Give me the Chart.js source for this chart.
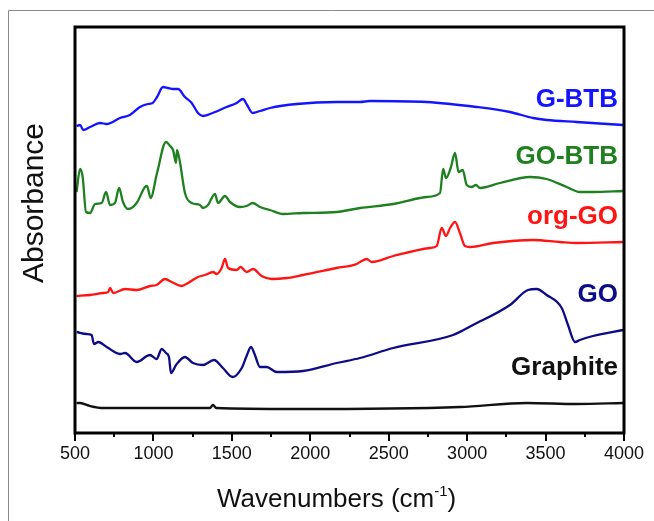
<!DOCTYPE html>
<html>
<head>
<meta charset="utf-8">
<script src="https://cdn.jsdelivr.net/npm/chart.js@4.4.1/dist/chart.umd.min.js"></script>
<style>
  body { margin: 0; background: #fff; }
  #wrap { width: 654px; height: 521px; }
</style>
</head>
<body>
<div id="wrap"><canvas id="ftir" width="654" height="521"></canvas></div>
<script>
// FTIR spectra, stacked with an offset (absorbance in arbitrary units)
var xTicks = [500, 1000, 1500, 2000, 2500, 3000, 3500, 4000];

var gbtbWn  = [510,532,553,596,660,702,787,850,914,965,995,1023,1061,1093,1125,1157,1201,1244,1284,1316,1361,1467,1531,1571,1597,1633,1679,1743,1913,2168,2317,2380,2742,3061,3273,3420,3507,3698,3995];
var gbtbAbs = [3.07,3.08,3.03,3.06,3.10,3.09,3.15,3.18,3.26,3.29,3.30,3.36,3.46,3.45,3.44,3.44,3.36,3.30,3.20,3.17,3.19,3.26,3.30,3.34,3.28,3.20,3.22,3.25,3.29,3.31,3.31,3.32,3.31,3.26,3.21,3.15,3.13,3.11,3.08];

var gobtbWn  = [510,532,549,570,596,628,670,698,723,755,781,806,838,893,946,959,982,1023,1080,1106,1125,1144,1150,1170,1201,1244,1297,1316,1348,1392,1412,1456,1488,1552,1594,1633,1679,1743,1826,1954,2168,2317,2529,2699,2742,2827,2847,2865,2895,2923,2945,2972,2997,3029,3056,3082,3209,3400,3507,3634,3719,3802,3995];
var gobtbAbs = [2.41,2.64,2.56,2.21,2.20,2.29,2.30,2.41,2.28,2.30,2.45,2.31,2.24,2.30,2.46,2.47,2.35,2.60,2.91,2.87,2.83,2.70,2.83,2.70,2.40,2.30,2.28,2.25,2.28,2.39,2.30,2.37,2.31,2.26,2.27,2.30,2.26,2.23,2.19,2.20,2.21,2.25,2.29,2.35,2.36,2.40,2.64,2.55,2.65,2.80,2.61,2.63,2.48,2.46,2.48,2.45,2.50,2.56,2.54,2.46,2.41,2.41,2.42];

var orggoWn  = [510,596,681,712,723,744,819,893,978,1020,1074,1116,1180,1221,1284,1329,1380,1403,1435,1456,1476,1531,1556,1594,1635,1690,1754,1849,1954,2168,2296,2317,2360,2391,2529,2763,2806,2838,2865,2891,2923,2954,2986,3018,3165,3420,3592,3698,3995];
var orggoAbs = [1.37,1.38,1.40,1.41,1.45,1.40,1.44,1.43,1.47,1.48,1.54,1.51,1.47,1.50,1.56,1.58,1.61,1.59,1.65,1.74,1.65,1.63,1.66,1.61,1.64,1.57,1.54,1.55,1.58,1.65,1.69,1.71,1.74,1.71,1.77,1.85,1.87,2.05,1.97,2.05,2.11,2.00,1.87,1.86,1.90,1.93,1.91,1.90,1.91];

var goWn  = [510,574,606,621,649,702,787,819,893,978,1020,1053,1080,1099,1112,1144,1201,1252,1316,1386,1443,1505,1563,1594,1622,1647,1679,1722,1786,1954,2168,2317,2529,2910,3037,3273,3388,3443,3507,3603,3643,3688,3719,3802,3995];
var goAbs = [1.01,0.99,0.98,0.89,0.91,0.86,0.79,0.80,0.71,0.78,0.74,0.84,0.80,0.76,0.60,0.68,0.76,0.70,0.68,0.73,0.65,0.56,0.65,0.77,0.86,0.78,0.66,0.66,0.61,0.62,0.70,0.75,0.85,0.98,1.08,1.28,1.43,1.44,1.38,1.25,1.08,0.91,0.93,0.97,1.03];

var graphiteWn  = [510,532,596,681,893,1360,1380,1400,1900,2954,3380,3700,3995];
var graphiteAbs = [0.30,0.30,0.27,0.25,0.25,0.25,0.28,0.25,0.24,0.26,0.30,0.29,0.30];

var seriesNames  = ['G-BTB', 'GO-BTB', 'org-GO', 'GO', 'Graphite'];
var seriesColors = ['#1414ff', '#1e801e', '#ff1414', '#0c0c86', '#111111'];

function toPoints(wn, abs) {
    var pts = [];
    for (var i = 0; i < wn.length; i++) {
        pts.push({x: wn[i], y: abs[i]});
    }
    return pts;
}

var allData = [
    toPoints(gbtbWn, gbtbAbs),
    toPoints(gobtbWn, gobtbAbs),
    toPoints(orggoWn, orggoAbs),
    toPoints(goWn, goAbs),
    toPoints(graphiteWn, graphiteAbs)
];

// label anchors: right edge x in px, vertical middle in absorbance units
var labelY = [3.33, 2.76, 2.16, 1.38, 0.65];

var FONT = '"Liberation Sans", Arial, sans-serif';

// frame, minor ticks, axis titles and series labels
var decorPlugin = {
    id: 'decor',
    afterDraw: function(chart) {
        var ctx = chart.ctx;
        var a = chart.chartArea;
        var xs = chart.scales.x;
        var ys = chart.scales.y;
        ctx.save();

        // thin grey outer frame
        ctx.strokeStyle = '#8a8a8a';
        ctx.lineWidth = 1;
        ctx.beginPath();
        ctx.moveTo(8.5, 521);
        ctx.lineTo(8.5, 10.5);
        ctx.lineTo(654, 10.5);
        ctx.stroke();

        // plot box
        ctx.strokeStyle = '#000';
        ctx.lineWidth = 3;
        ctx.strokeRect(a.left, a.top, a.right - a.left, a.bottom - a.top);

        // minor ticks
        ctx.lineWidth = 2;
        ctx.beginPath();
        for (var v = 750; v < 4000; v += 500) {
            var px = Math.round(xs.getPixelForValue(v));
            ctx.moveTo(px, a.bottom);
            ctx.lineTo(px, a.bottom + 4);
        }
        ctx.stroke();

        // y title
        ctx.fillStyle = '#111';
        ctx.font = '30px ' + FONT;
        ctx.textAlign = 'center';
        ctx.textBaseline = 'alphabetic';
        ctx.translate(43, 203);
        ctx.rotate(-Math.PI / 2);
        ctx.fillText('Absorbance', 0, 0);
        ctx.setTransform(1, 0, 0, 1, 0, 0);

        // x title with superscript
        ctx.textAlign = 'left';
        ctx.font = '26px ' + FONT;
        var x0 = 217, base = 507;
        var t1 = 'Wavenumbers (cm';
        ctx.fillText(t1, x0, base);
        x0 += ctx.measureText(t1).width;
        ctx.font = '15px ' + FONT;
        ctx.fillText('-1', x0, base - 11);
        x0 += ctx.measureText('-1').width;
        ctx.font = '26px ' + FONT;
        ctx.fillText(')', x0, base);

        // series labels
        ctx.font = 'bold 26px ' + FONT;
        ctx.textAlign = 'right';
        ctx.textBaseline = 'middle';
        for (var i = 0; i < seriesNames.length; i++) {
            ctx.fillStyle = seriesColors[i];
            ctx.fillText(seriesNames[i], 618, ys.getPixelForValue(labelY[i]));
        }
        ctx.restore();
    }
};

var datasets = [];
for (var i = 0; i < seriesNames.length; i++) {
    datasets.push({
        label: seriesNames[i],
        data: allData[i],
        borderColor: seriesColors[i],
        borderWidth: 2.3,
        pointRadius: 0,
        showLine: true,
        fill: false,
        cubicInterpolationMode: 'monotone'
    });
}

var ctx = document.getElementById('ftir').getContext('2d');
var ftirChart = new Chart(ctx, {
    type: 'scatter',
    data: { datasets: datasets },
    options: {
        responsive: false,
        animation: false,
        layout: { padding: { left: 0, top: 27, right: 30, bottom: 0 } },
        plugins: {
            legend: { display: false },
            tooltip: { enabled: false }
        },
        scales: {
            x: {
                type: 'linear',
                min: 500,
                max: 4000,
                afterFit: function(s) { s.height = 88; },
                afterBuildTicks: function(s) {
                    s.ticks = xTicks.map(function(v) { return {value: v}; });
                },
                border: { display: false },
                grid: {
                    drawOnChartArea: false,
                    drawTicks: true,
                    tickLength: 8,
                    color: '#000',
                    lineWidth: 2
                },
                ticks: {
                    color: '#111',
                    padding: 2,
                    maxRotation: 0,
                    font: { family: FONT, size: 18 },
                    callback: function(v) { return String(v); }
                }
            },
            y: {
                type: 'linear',
                min: 0,
                max: 4.06,
                afterFit: function(s) { s.width = 75; },
                border: { display: false },
                grid: { display: false },
                ticks: { display: false }
            }
        }
    },
    plugins: [decorPlugin]
});
</script>
</body>
</html>
